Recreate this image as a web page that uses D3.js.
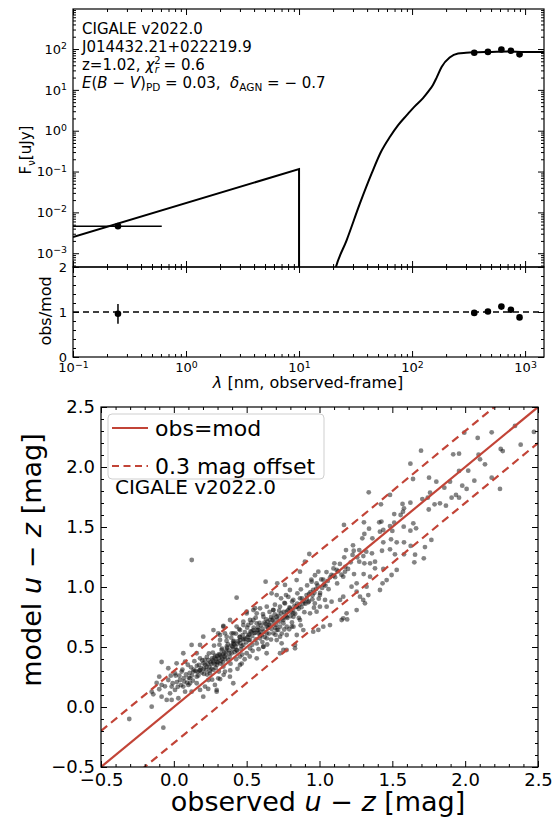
<!DOCTYPE html>
<html>
<head>
<meta charset="utf-8">
<script src="https://cdn.jsdelivr.net/npm/d3@7"></script>
<style>
  body { margin: 0; background: #fff; }
  text { font-family: "DejaVu Sans", sans-serif; fill: #000; white-space: pre; }
</style>
</head>
<body>
<div id="vis"></div>
<script>
// ---------- data: SED panel ----------
// X-ray (AGN) power law, nm / uJy
const agnLam = [0.1, 10, 10];
const agnFlux = [2.5e-3, 0.115, 1e-5];
// stellar + dust model
const galLam = [20, 21.2, 26.4, 34.7, 44, 53, 63.8, 75, 89.8, 105, 125, 140, 153, 165, 183, 215, 255, 300, 347, 500, 700, 1000, 1470];
const galFlux = [2.5e-4, 4.6e-4, 2.1e-3, 0.017, 0.091, 0.3, 0.71, 1.35, 2.4, 3.9, 6.3, 9.3, 13.2, 20, 37, 62, 78, 81, 83, 85, 87, 85, 85];
// observed photometry
const obsLam = [0.25, 355, 469, 617, 748, 893];
const obsFlux = [4.6e-3, 81, 85, 97, 91, 74];
const obsErr = [0.6e-3, 2, 2, 2, 2, 2];
const xrayBand = [0.1, 0.61];
const ratio = [0.96, 0.98, 1.01, 1.12, 1.05, 0.88];
const ratioErr = [0.22, 0.02, 0.02, 0.02, 0.02, 0.02];
const lamTicks = [0.1, 1, 10, 100, 1000];
const fluxTicks = [1e-3, 1e-2, 1e-1, 1, 10, 100];
const resTicks = [0, 1, 2];

// ---------- data: colour comparison (observed u-z, model u-z) ----------
const uzPairs = [
  [1.697,2.136],[1.918,2.106],[1.958,2.111],[1.994,2.286],[2.086,2.242],[2.182,2.289],[2.342,2.342],[2.472,2.292],
  [2.381,2.186],[2.244,2.15],[2.258,2.133],[2.092,2.103],[2.102,2.064],[2.136,2.022],[2.021,1.969],[2.063,1.886],
  [2.182,1.911],[2.239,1.817],[1.98,1.844],[2.01,1.817],[1.624,2.028],[1.642,1.9],[1.752,1.911],[1.802,1.878],
  [1.857,1.828],[1.896,1.878],[1.958,1.967],[1.907,1.744],[1.937,1.767],[1.958,1.744],[1.759,1.786],[1.743,1.744],
  [1.706,1.733],[1.75,1.646],[1.79,1.689],[1.827,1.697],[1.868,1.678],[1.484,1.767],[1.338,1.789],[1.422,1.689],
  [1.624,1.703],[1.57,1.692],[1.58,1.656],[1.573,1.628],[1.513,1.608],[1.557,1.6],[1.168,1.517],[1.305,1.539],
  [1.41,1.539],[1.425,1.545],[1.513,1.536],[1.578,1.503],[1.624,1.469],[1.644,1.531],[1.663,1.489],[1.484,1.508],
  [1.5,1.467],[1.438,1.475],[1.415,1.461],[1.34,1.486],[1.308,1.442],[1.363,1.406],[1.294,1.406],[1.23,1.347],
  [1.235,1.302],[1.182,1.308],[1.17,1.247],[1.14,1.192],[1.102,1.197],[1.491,1.397],[1.438,1.372],[1.53,1.372],
  [1.58,1.372],[1.429,1.302],[1.484,1.314],[1.518,1.272],[1.58,1.272],[1.626,1.342],[1.724,1.333],[1.768,1.392],
  [1.656,1.269],[1.716,1.239],[1.651,1.206],[1.381,1.156],[1.438,1.15],[1.381,1.211],[1.273,1.211],[1.308,1.197],
  [1.347,1.197],[1.227,1.267],[1.259,1.247],[1.301,1.258],[1.321,1.294],[1.36,1.281],[1.273,1.308],[1.214,1.206],
  [1.303,1.108],[1.347,1.086],[1.237,1.108],[1.175,1.128],[1.118,1.142],[1.095,1.094],[1.163,1.086],
  [0.431,0.911],[0.63,1.044],[0.71,1.031],[0.93,1.275],[0.9,1.211],[0.992,1.128],[0.98,1.031],[0.946,1.044],
  [0.957,0.975],[0.866,1.128],[0.843,1.058],[0.763,1.017],[0.797,0.975],[0.77,0.933],[0.736,0.906],[0.706,0.933],
  [0.671,0.947],[0.82,0.892],[0.866,0.906],[0.911,0.933],[0.889,0.863],[0.843,0.836],[0.797,0.822],[0.763,0.863],
  [1.003,0.933],[1.038,0.892],[1.049,0.836],[1.003,0.836],[0.968,0.863],[0.98,0.794],[0.935,0.781],[1.083,0.878],
  [1.141,0.892],[1.163,0.919],[1.186,0.781],[1.152,0.725],[1.19,0.73],[1.255,0.808],[1.278,0.919],[1.3,0.892],
  [1.335,0.933],[1.255,0.961],[1.22,1.003],[1.323,1.003],[1.255,1.031],[1.433,1.031],[1.415,0.975],[1.461,1.058],
  [1.495,1.1],[1.53,1.142],[1.026,0.669],[1.072,0.683],[0.992,0.642],[1.312,0.864],[1.163,0.739],[0.832,0.489],
  [0.752,0.475],[0.957,0.628],[0.123,1.225],
  [0.202,0.586],[0.272,0.641],[0.34,0.669],[0.386,0.725],[0.317,0.6],[0.363,0.586],[0.409,0.614],[0.455,0.641],
  [0.477,0.683],[0.523,0.725],[0.5,0.78],[0.546,0.808],[0.592,0.822],[0.638,0.836],[0.615,0.752],[0.569,0.697],
  [0.546,0.641],[0.512,0.6],[0.455,0.558],[0.409,0.53],[0.592,0.628],[0.638,0.669],[0.661,0.725],[0.706,0.752],
  [0.683,0.808],[0.729,0.836],[0.775,0.794],[0.821,0.752],[0.752,0.725],[0.729,0.669],[0.683,0.614],[0.638,0.572],
  [0.775,0.669],[0.821,0.669],[0.866,0.725],[0.706,0.558],[0.569,0.53],[0.523,0.489],[0.615,0.502],[0.775,0.6],
  [0.889,0.641],[0.844,0.6],
  [-0.306,-0.1],[-0.072,-0.172],[-0.152,0.003],[-0.141,0.106],[-0.152,0.128],[-0.1,0.148],[-0.084,0.086],[-0.049,0.059],
  [-0.084,0.184],[-0.1,0.253],[-0.038,0.225],[-0.015,0.17],[-0.026,0.114],[0.008,0.142],[-0.084,0.375],[-0.038,0.323],
  [0.008,0.281],[0.054,0.295],[0.042,0.225],[0.065,0.17],[0.077,0.128],[0.031,0.073],[-0.015,0.059],[0.122,0.128],
  [0.1,0.184],[0.111,0.239],[0.134,0.295],[0.157,0.253],[0.157,0.198],[0.18,0.142],[0.202,0.086],[0.18,0.309],
  [0.202,0.364],[0.18,0.406],[0.225,0.336],[0.248,0.281],[0.237,0.225],[0.214,0.17],[0.282,0.184],[0.294,0.128],
  [0.305,0.239],[0.271,0.309],[0.294,0.378],[0.317,0.434],[0.34,0.336],[0.351,0.295],[0.374,0.392],[0.397,0.448],
  [0.363,0.503],[0.328,0.475],[0.317,0.559],[0.351,0.614],[0.34,0.675],[0.408,0.545],[0.431,0.475],[0.454,0.42],
  [0.454,0.586],[0.477,0.517],[0.5,0.448],[0.523,0.559],[0.534,0.628],[0.511,0.684],[0.546,0.725],[0.58,0.642],
  [0.591,0.573],[0.614,0.503],[0.569,0.406],[0.637,0.614],[0.66,0.684],[0.683,0.739],[0.706,0.642],[0.729,0.586],
  [0.752,0.698],[0.74,0.531],[0.774,0.753],[0.809,0.67],[0.82,0.781],[0.843,0.836],[0.683,0.809],[0.569,0.781],
  [0.477,0.711],[0.637,0.448],[0.774,0.475],[0.832,0.517],[0.729,0.448],[0.397,0.614],[0.305,0.614],[0.18,0.517],
  [0.122,0.517],[0.157,0.448],[0.077,0.378],[0.019,0.364],[0.065,0.448],[0.431,0.67],[0.5,0.795],[0.557,0.823],
  [0.111,0.198],[0.408,0.198],[0.385,0.253],[0.454,0.35],[0.294,0.142],
  [0.215,0.352],[0.238,0.391],[0.262,0.405],[0.281,0.357],[0.298,0.426],[0.322,0.384],[0.338,0.441],[0.359,0.468],
  [0.383,0.417],[0.402,0.503],[0.418,0.457],[0.437,0.528],[0.462,0.482],[0.481,0.566],[0.497,0.538],[0.519,0.604],
  [0.268,0.452],[0.287,0.326],[0.309,0.296],[0.331,0.487],[0.352,0.398],[0.371,0.523],[0.389,0.361],[0.412,0.551],
  [0.428,0.398],[0.451,0.583],[0.469,0.437],[0.488,0.624],[0.246,0.302],[0.227,0.418],[0.207,0.276],[0.188,0.323],
  [0.168,0.262],[0.149,0.301],[0.131,0.219],[0.109,0.284],[0.091,0.203],[0.068,0.241],[0.049,0.182],[0.553,0.617],
  [0.578,0.664],[0.603,0.597],[0.621,0.703],[0.648,0.659],[0.677,0.722],[0.702,0.684],[0.718,0.761],[0.747,0.738],
  [0.783,0.806],[0.801,0.757],[0.828,0.843],[0.857,0.818],[0.879,0.904],[0.903,0.861],[0.928,0.942],[0.951,0.897],
  [0.977,0.984],[1.004,0.951],[1.031,1.021],[0.241,0.447],[0.276,0.512],[0.313,0.519],[0.256,0.358],[0.221,0.309],
  [0.195,0.388],[0.172,0.351],[0.141,0.382],[0.118,0.331],[0.096,0.352],[0.059,0.312],[0.021,0.208],[0.012,0.262],
  [0.362,0.551],[0.394,0.578],[0.426,0.612],[0.448,0.649],[0.472,0.598],[0.503,0.661],[0.531,0.702],[0.562,0.744],
  [0.588,0.701],[0.612,0.774],[0.634,0.731],[0.657,0.792],[0.694,0.853],[0.723,0.803],[0.759,0.868],[0.786,0.917],
  [0.812,0.879],[0.848,0.947],[0.872,0.981],[0.915,1.013],[0.944,1.062],[0.969,1.098],[1.012,1.063],[1.048,1.124],
  [1.073,1.081],[1.096,1.155],[1.121,1.03],[1.062,0.982],[0.995,0.903],[0.962,0.828],[0.923,0.872],[0.896,0.79],
  [0.858,0.742],[0.871,0.681],[0.811,0.704],[0.792,0.648],[0.758,0.646],[0.741,0.612],[0.698,0.602],[0.667,0.562],
  [0.641,0.521],[0.608,0.541],[0.582,0.482],[0.541,0.468],[0.521,0.421],[0.486,0.398],[0.466,0.362],[0.437,0.318],
  [0.387,0.305],[0.342,0.268],[0.318,0.233],[0.263,0.228],[0.236,0.151],
  [0.252,0.372],[0.267,0.389],[0.279,0.411],[0.291,0.398],[0.303,0.372],[0.311,0.441],[0.326,0.419],[0.333,0.402],
  [0.347,0.452],[0.356,0.433],[0.366,0.491],[0.377,0.472],[0.381,0.448],[0.393,0.511],[0.406,0.482],[0.415,0.521],
  [0.423,0.502],[0.433,0.471],[0.441,0.548],[0.457,0.531],[0.465,0.507],[0.474,0.562],[0.492,0.571],[0.506,0.582],
  [0.514,0.557],[0.527,0.631],[0.538,0.592],[0.548,0.662],[0.561,0.618],[0.572,0.641],[0.584,0.612],[0.597,0.681],
  [0.609,0.652],[0.618,0.628],[0.629,0.691],[0.644,0.712],[0.652,0.686],[0.668,0.751],[0.687,0.703],[0.693,0.772],
  [0.711,0.728],[0.726,0.712],[0.738,0.779],[0.754,0.792],[0.767,0.762],[0.779,0.742],[0.794,0.829],[0.806,0.792],
  [0.819,0.811],[0.833,0.778],[0.847,0.862],[0.862,0.851],[0.876,0.832],[0.893,0.882],[0.912,0.902],[0.927,0.881],
  [0.938,0.958],[0.952,0.931],[0.965,0.952],[0.987,1.012],[1.018,0.992],[1.026,1.061],[1.041,1.012],[1.057,1.051],
  [1.082,1.101],[1.107,1.082],[1.128,1.131],[1.151,1.102],[1.177,1.168],[1.196,1.151],[0.231,0.362],[0.244,0.333],
  [0.259,0.318],[0.272,0.372],[0.285,0.428],[0.296,0.352],[0.308,0.407],[0.319,0.362],[0.336,0.372],[0.349,0.418],
  [0.158,0.342],[0.163,0.292],[0.176,0.303],[0.192,0.287],[0.205,0.318],[0.212,0.392],[0.229,0.271],[0.124,0.262],
  [0.136,0.311],[0.102,0.243],[0.084,0.271],[0.071,0.212],[0.038,0.261],[0.027,0.168],[-0.008,0.198],[-0.021,0.261],
  [-0.061,0.172],[-0.118,0.201],[0.538,0.518],[0.562,0.563],[0.593,0.598],[0.624,0.583],[0.653,0.612],[0.672,0.651],
  [0.697,0.661],[0.716,0.642]
];
const uzTicks = [-0.5, 0, 0.5, 1, 1.5, 2, 2.5];
const offset = 0.3;

const red = "#c24437";

let svg = d3.select("#vis").append("svg")
  .attr("width", 553).attr("height", 823)
  .style("background-color", "white");

const minus = s => String(s).replace("-", "\u2212");

function logMinor(lo, hi) {
  let out = [];
  for (let e = -4; e <= 4; e++)
    for (let k = 2; k <= 9; k++) {
      const v = k * Math.pow(10, e);
      if (v > lo && v < hi) out.push(v);
    }
  return out;
}

// inward ticks, no domain line
function tickAxis(axis, tr, vals, size, fmt) {
  const g = svg.append("g").attr("transform", tr)
    .call(axis.tickValues(vals).tickSize(-size).tickPadding(6).tickFormat(fmt || ""));
  g.select(".domain").remove();
  g.selectAll(".tick line").attr("stroke", "#000").attr("stroke-width", 1);
  return g;
}

function powLabels(g) {
  g.selectAll(".tick text").each(function (d) {
    const t = d3.select(this);
    const e = Math.round(Math.log10(d));
    t.text(null);
    t.append("tspan").text("10");
    t.append("tspan").attr("dy", "-0.5em").attr("font-size", "0.72em").text(minus(e));
  });
}

// ================= SED panel =================
const xSed = d3.scaleLog().domain([0.1, 1470]).range([73, 544]);
const ySed = d3.scaleLog().domain([4.6e-4, 955]).range([267, 9]);
const yRes = d3.scaleLinear().domain([0, 2]).range([357, 267]);

svg.append("clipPath").attr("id", "clipSed").append("rect")
  .attr("x", 73).attr("y", 9).attr("width", 471).attr("height", 258);

const line = d3.line().x(d => xSed(d[0])).y(d => ySed(d[1]));
const sedG = svg.append("g").attr("clip-path", "url(#clipSed)");
sedG.append("path").attr("d", line(agnLam.map((l, i) => [l, agnFlux[i]])))
  .attr("fill", "none").attr("stroke", "#000").attr("stroke-width", 2);
sedG.append("path").attr("d", line.curve(d3.curveMonotoneX)(galLam.map((l, i) => [l, galFlux[i]])))
  .attr("fill", "none").attr("stroke", "#000").attr("stroke-width", 2);

// observed points
sedG.append("line").attr("x1", xSed(xrayBand[0])).attr("x2", xSed(xrayBand[1]))
  .attr("y1", ySed(obsFlux[0])).attr("y2", ySed(obsFlux[0])).attr("stroke", "#000").attr("stroke-width", 1.5);
sedG.selectAll(".ebar").data(obsLam).join("line")
  .attr("x1", d => xSed(d)).attr("x2", d => xSed(d))
  .attr("y1", (d, i) => ySed(obsFlux[i] - obsErr[i])).attr("y2", (d, i) => ySed(obsFlux[i] + obsErr[i]))
  .attr("stroke", "#000").attr("stroke-width", 1.5);
sedG.selectAll(".pt").data(obsLam).join("circle")
  .attr("cx", d => xSed(d)).attr("cy", (d, i) => ySed(obsFlux[i])).attr("r", 3.3).attr("fill", "#000");

// axes SED
const lamMinor = logMinor(0.1, 1470);
tickAxis(d3.axisLeft(ySed), "translate(73,0)", fluxTicks, 6, d => d).call(powLabels)
  .selectAll("text").attr("font-size", 13);
tickAxis(d3.axisLeft(ySed), "translate(73,0)", logMinor(4.6e-4, 955), 3);
tickAxis(d3.axisRight(ySed), "translate(544,0)", fluxTicks, 6);
tickAxis(d3.axisRight(ySed), "translate(544,0)", logMinor(4.6e-4, 955), 3);
tickAxis(d3.axisTop(xSed), "translate(0,9)", lamTicks, 6);
tickAxis(d3.axisTop(xSed), "translate(0,9)", lamMinor, 3);
tickAxis(d3.axisBottom(xSed), "translate(0,267)", lamTicks, 6);
tickAxis(d3.axisBottom(xSed), "translate(0,267)", lamMinor, 3);
svg.append("rect").attr("x", 73).attr("y", 9).attr("width", 471).attr("height", 258)
  .attr("fill", "none").attr("stroke", "#000").attr("stroke-width", 1.2);

// residual panel
svg.append("line").attr("x1", 73).attr("x2", 544).attr("y1", yRes(1)).attr("y2", yRes(1))
  .attr("stroke", "#000").attr("stroke-width", 1.5).attr("stroke-dasharray", "6,4");
svg.selectAll(".rbar").data(obsLam).join("line")
  .attr("x1", d => xSed(d)).attr("x2", d => xSed(d))
  .attr("y1", (d, i) => yRes(ratio[i] - ratioErr[i])).attr("y2", (d, i) => yRes(ratio[i] + ratioErr[i]))
  .attr("stroke", "#000").attr("stroke-width", 1.5);
svg.selectAll(".rpt").data(obsLam).join("circle")
  .attr("cx", d => xSed(d)).attr("cy", (d, i) => yRes(ratio[i])).attr("r", 3.3).attr("fill", "#000");

const resMinor = [0.2, 0.4, 0.6, 0.8, 1.2, 1.4, 1.6, 1.8];
tickAxis(d3.axisLeft(yRes), "translate(73,0)", resTicks, 6, d => d).selectAll("text").attr("font-size", 13);
tickAxis(d3.axisLeft(yRes), "translate(73,0)", resMinor, 3);
tickAxis(d3.axisRight(yRes), "translate(544,0)", resTicks, 6);
tickAxis(d3.axisRight(yRes), "translate(544,0)", resMinor, 3);
tickAxis(d3.axisBottom(xSed), "translate(0,357)", lamTicks, 6, d => d).call(powLabels)
  .selectAll("text").attr("font-size", 13);
tickAxis(d3.axisBottom(xSed), "translate(0,357)", lamMinor, 3);
tickAxis(d3.axisTop(xSed), "translate(0,267)", lamTicks, 6);
tickAxis(d3.axisTop(xSed), "translate(0,267)", lamMinor, 3);
svg.append("rect").attr("x", 73).attr("y", 267).attr("width", 471).attr("height", 90)
  .attr("fill", "none").attr("stroke", "#000").attr("stroke-width", 1.2);

// SED labels
let fl = svg.append("text").attr("transform", "translate(31,150) rotate(-90)")
  .attr("text-anchor", "middle").attr("font-size", 15);
fl.append("tspan").text("F");
fl.append("tspan").attr("dy", 4).attr("font-size", 10).text("\u03bd");
fl.append("tspan").attr("dy", -4).text("[uJy]");
svg.append("text").attr("transform", "translate(51,311) rotate(-90)")
  .attr("text-anchor", "middle").attr("font-size", 16).text("obs/mod");
let xl = svg.append("text").attr("x", 308).attr("y", 388).attr("text-anchor", "middle").attr("font-size", 16);
xl.append("tspan").attr("font-style", "italic").text("\u03bb");
xl.append("tspan").text(" [nm, observed-frame]");

const info = [
  "CIGALE v2022.0",
  "J014432.21+022219.9"
];
info.forEach((s, i) => svg.append("text").attr("x", 82).attr("y", 34 + i * 18).attr("font-size", 15).text(s));
let l3 = svg.append("text").attr("x", 82).attr("y", 70).attr("font-size", 15);
l3.append("tspan").text("z=1.02, ");
l3.append("tspan").attr("font-style", "italic").text("\u03c7");
l3.append("tspan").attr("dy", -6).attr("font-size", 10).text("2");
l3.append("tspan").attr("dy", 9).attr("dx", -6).attr("font-size", 10).attr("font-style", "italic").text("r");
l3.append("tspan").attr("dy", -3).text(" = 0.6");
let l4 = svg.append("text").attr("x", 82).attr("y", 88).attr("font-size", 15);
l4.append("tspan").attr("font-style", "italic").text("E");
l4.append("tspan").text("(");
l4.append("tspan").attr("font-style", "italic").text("B");
l4.append("tspan").text(" \u2212 ");
l4.append("tspan").attr("font-style", "italic").text("V");
l4.append("tspan").text(")");
l4.append("tspan").attr("dy", 3).attr("font-size", 10.5).text("PD");
l4.append("tspan").attr("dy", -3).text(" = 0.03,  ");
l4.append("tspan").attr("font-style", "italic").text("\u03b4");
l4.append("tspan").attr("dy", 3).attr("font-size", 10.5).text("AGN");
l4.append("tspan").attr("dy", -3).text(" = \u2212 0.7");

// ================= u-z comparison =================
const x = d3.scaleLinear().domain([-0.5, 2.5]).range([101, 538]);
const y = d3.scaleLinear().domain([-0.5, 2.5]).range([767, 407]);

svg.append("clipPath").attr("id", "clipUz").append("rect")
  .attr("x", 101).attr("y", 407).attr("width", 437).attr("height", 360);
const uzG = svg.append("g").attr("clip-path", "url(#clipUz)");

uzG.append("g").selectAll("circle").data(uzPairs).join("circle")
  .attr("cx", d => x(d[0])).attr("cy", d => y(d[1])).attr("r", 2.4)
  .attr("fill", "#111").attr("fill-opacity", 0.52);

const one2one = [-0.5, 2.5];
[0, offset, -offset].forEach(o => {
  uzG.append("line")
    .attr("x1", x(one2one[0])).attr("y1", y(one2one[0] + o))
    .attr("x2", x(one2one[1])).attr("y2", y(one2one[1] + o))
    .attr("stroke", red).attr("stroke-width", 2.2)
    .attr("stroke-dasharray", o === 0 ? null : "8,5");
});

const uzMinor = d3.range(-0.4, 2.5, 0.1).filter(v => Math.abs(v * 2 - Math.round(v * 2)) > 0.01);
tickAxis(d3.axisLeft(y), "translate(101,0)", uzTicks, 6, d => minus(d.toFixed(1))).selectAll("text").attr("font-size", 18);
tickAxis(d3.axisLeft(y), "translate(101,0)", uzMinor, 3);
tickAxis(d3.axisRight(y), "translate(538,0)", uzTicks, 6);
tickAxis(d3.axisRight(y), "translate(538,0)", uzMinor, 3);
tickAxis(d3.axisBottom(x), "translate(0,767)", uzTicks, 6, d => minus(d.toFixed(1))).selectAll("text").attr("font-size", 18);
tickAxis(d3.axisBottom(x), "translate(0,767)", uzMinor, 3);
tickAxis(d3.axisTop(x), "translate(0,407)", uzTicks, 6);
tickAxis(d3.axisTop(x), "translate(0,407)", uzMinor, 3);
svg.append("rect").attr("x", 101).attr("y", 407).attr("width", 437).attr("height", 360)
  .attr("fill", "none").attr("stroke", "#000").attr("stroke-width", 1.2);

// legend
svg.append("rect").attr("x", 108).attr("y", 414).attr("width", 216).attr("height", 65).attr("rx", 4)
  .attr("fill", "#fff").attr("fill-opacity", 0.8).attr("stroke", "#cfcfcf");
const legendItems = ["obs=mod", "0.3 mag offset"];
legendItems.forEach((s, i) => {
  const ly = 428 + i * 38;
  svg.append("line").attr("x1", 112).attr("x2", 148).attr("y1", ly).attr("y2", ly)
    .attr("stroke", red).attr("stroke-width", 2.2).attr("stroke-dasharray", i ? "7,4.5" : null);
  svg.append("text").attr("x", 155).attr("y", ly + 8).attr("font-size", 22).text(s);
});
svg.append("text").attr("x", 115).attr("y", 494).attr("font-size", 20).text("CIGALE v2022.0");

// axis labels
let yl = svg.append("text").attr("transform", "translate(41,560) rotate(-90)")
  .attr("text-anchor", "middle").attr("font-size", 27);
yl.append("tspan").text("model ");
yl.append("tspan").attr("font-style", "italic").text("u");
yl.append("tspan").text(" \u2212 ");
yl.append("tspan").attr("font-style", "italic").text("z");
yl.append("tspan").text(" [mag]");
let bl = svg.append("text").attr("x", 318).attr("y", 811)
  .attr("text-anchor", "middle").attr("font-size", 27);
bl.append("tspan").text("observed ");
bl.append("tspan").attr("font-style", "italic").text("u");
bl.append("tspan").text(" \u2212 ");
bl.append("tspan").attr("font-style", "italic").text("z");
bl.append("tspan").text(" [mag]");
</script>
</body>
</html>
